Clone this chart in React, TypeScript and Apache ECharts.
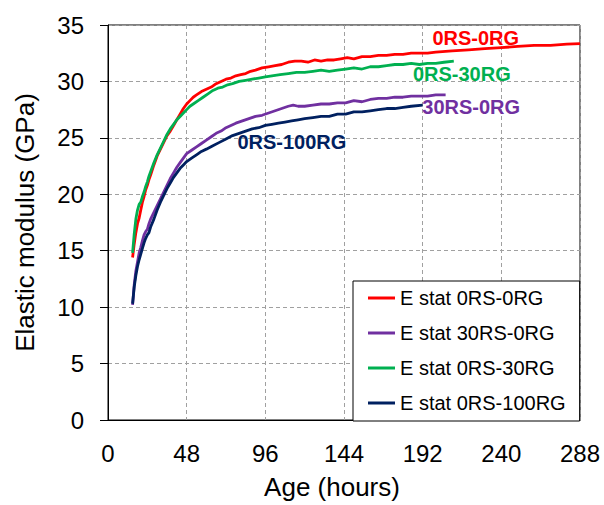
import React, { useEffect, useRef } from "react";
import * as echarts from "echarts";

const xTicks = [0, 48, 96, 144, 192, 240, 288];
const yTicks = [0, 5, 10, 15, 20, 25, 30, 35];

const seriesNames = ["E stat 0RS-0RG", "E stat 30RS-0RG", "E stat 0RS-30RG", "E stat 0RS-100RG"];
const seriesColors = ["#FF0000", "#7030A0", "#00B050", "#002060"];
const curveLabels = ["0RS-0RG", "30RS-0RG", "0RS-30RG", "0RS-100RG"];
const labelAnchors: [number, number][] = [
  [224.4, 33.85],
  [221.6, 27.7],
  [215.9, 30.7],
  [112.2, 24.6],
];

const red0RS0RG: [number, number][] = [
  [15, 14.4], [16, 15.6], [17, 16.6], [18, 17.4], [19, 17.9], [20, 18.6], [21, 19.3], [22, 19.8],
  [23, 20.4], [24, 20.8], [25, 21.3], [26, 21.7], [28, 22.6], [30, 23.4], [32, 24.0], [34, 24.6],
  [36, 25.2], [38, 25.6], [40, 26.1], [42, 26.6], [44, 27.1], [46, 27.6], [48, 28.0], [50, 28.3],
  [52, 28.6], [54, 28.8], [57, 29.1], [60, 29.3], [63, 29.5], [66, 29.8], [69, 30.0], [72, 30.2],
  [75, 30.3], [78, 30.5], [81, 30.6], [84, 30.7], [87, 30.9], [90, 31.0], [94, 31.2], [98, 31.3],
  [102, 31.4], [106, 31.5], [110, 31.7], [114, 31.8], [118, 31.8], [122, 31.7], [126, 31.9], [130, 31.8],
  [134, 31.9], [138, 31.9], [142, 32.0], [146, 32.1], [150, 32.0], [155, 32.2], [160, 32.2], [165, 32.3],
  [170, 32.3], [175, 32.4], [180, 32.4], [185, 32.5], [190, 32.5], [195, 32.5], [200, 32.6], [210, 32.7],
  [220, 32.8], [230, 32.9], [240, 33.0], [250, 33.1], [260, 33.2], [270, 33.2], [280, 33.3], [288, 33.35],
];

const purple30RS0RG: [number, number][] = [
  [15, 10.2], [16, 12.0], [17, 13.2], [18, 14.0], [19, 14.8], [20, 15.3], [21, 15.9], [22, 16.4],
  [23, 16.7], [24, 16.9], [25, 17.4], [26, 17.8], [28, 18.4], [30, 19.0], [32, 19.6], [34, 20.2],
  [36, 20.8], [38, 21.4], [40, 21.9], [42, 22.4], [44, 22.8], [46, 23.2], [48, 23.6], [51, 23.9],
  [54, 24.2], [57, 24.5], [60, 24.8], [63, 25.1], [66, 25.4], [69, 25.6], [72, 25.9], [75, 26.1],
  [78, 26.3], [82, 26.5], [86, 26.7], [90, 26.9], [94, 27.0], [98, 27.2], [102, 27.4], [106, 27.6],
  [110, 27.8], [113, 27.9], [116, 27.8], [120, 27.8], [125, 27.9], [130, 28.0], [135, 28.0], [140, 28.1],
  [145, 28.1], [150, 28.3], [155, 28.2], [160, 28.4], [165, 28.5], [170, 28.5], [175, 28.6], [180, 28.6],
  [185, 28.7], [190, 28.7], [195, 28.7], [200, 28.8], [206, 28.8],
];

const green0RS30RG: [number, number][] = [
  [15, 14.8], [16, 16.5], [17, 17.8], [18, 18.6], [19, 19.1], [20, 19.3], [21, 19.8], [22, 20.2],
  [23, 20.7], [24, 21.1], [25, 21.6], [26, 22.0], [28, 22.8], [30, 23.5], [32, 24.1], [34, 24.7],
  [36, 25.3], [38, 25.8], [40, 26.2], [42, 26.6], [44, 26.9], [46, 27.2], [48, 27.5], [50, 27.8],
  [52, 28.0], [55, 28.3], [58, 28.6], [61, 28.9], [64, 29.2], [67, 29.4], [70, 29.5], [73, 29.7],
  [76, 29.8], [80, 30.0], [84, 30.1], [88, 30.2], [92, 30.3], [96, 30.4], [100, 30.5], [105, 30.6],
  [110, 30.7], [115, 30.8], [120, 30.8], [125, 30.9], [130, 31.0], [135, 30.9], [140, 31.0], [145, 31.1],
  [150, 31.2], [155, 31.1], [160, 31.3], [165, 31.3], [170, 31.4], [175, 31.5], [180, 31.5], [185, 31.6],
  [190, 31.5], [195, 31.6], [200, 31.6], [205, 31.7], [211, 31.8],
];

const navy0RS100RG: [number, number][] = [
  [15, 10.3], [16, 11.8], [17, 12.8], [18, 13.6], [19, 14.2], [20, 14.7], [21, 15.2], [22, 15.7],
  [23, 16.1], [24, 16.4], [25, 16.6], [26, 17.1], [28, 17.8], [30, 18.6], [32, 19.3], [34, 19.9],
  [36, 20.5], [38, 21.0], [40, 21.5], [42, 21.9], [44, 22.3], [46, 22.6], [48, 22.9], [51, 23.2],
  [54, 23.5], [57, 23.8], [60, 24.0], [64, 24.3], [68, 24.6], [72, 24.9], [76, 25.2], [80, 25.4],
  [84, 25.6], [88, 25.8], [92, 25.9], [96, 26.1], [100, 26.2], [104, 26.3], [108, 26.4], [112, 26.5],
  [116, 26.6], [120, 26.7], [125, 26.8], [130, 26.9], [135, 26.9], [140, 27.1], [145, 27.1], [150, 27.3],
  [155, 27.3], [160, 27.4], [165, 27.5], [170, 27.6], [175, 27.6], [180, 27.7], [185, 27.8], [192, 27.9],
];

const seriesData = [red0RS0RG, purple30RS0RG, green0RS30RG, navy0RS100RG];

const FONT = "'Liberation Sans', Arial, Helvetica, sans-serif";

export default function App() {
  const ref = useRef<HTMLDivElement>(null);
  useEffect(() => {
    document.body.style.margin = "0";
    if (!ref.current) return;
    const chart = echarts.init(ref.current, undefined, { renderer: "svg" });
    const gridLine = { show: true, lineStyle: { color: "#a0a0a0", type: [4, 3] as any, width: 1 } };
    chart.setOption({
      animation: false,
      backgroundColor: "#fff",
      textStyle: { fontFamily: FONT },
      grid: {
        left: 108, right: 24, top: 25, bottom: 85,
        show: true, borderColor: "#000", borderWidth: 1, backgroundColor: "transparent",
      },
      xAxis: {
        type: "value",
        min: xTicks[0], max: xTicks[xTicks.length - 1], interval: 48,
        name: "Age (hours)",
        nameLocation: "middle",
        nameGap: 54,
        nameTextStyle: { fontSize: 26, color: "#000", fontFamily: FONT, padding: [0, 24, 0, 0] },
        axisLine: { lineStyle: { color: "#000", width: 1 } },
        axisTick: { show: false },
        axisLabel: { fontSize: 24, color: "#000", margin: 21, fontFamily: FONT },
        splitLine: gridLine,
      },
      yAxis: {
        type: "value",
        min: yTicks[0], max: yTicks[yTicks.length - 1], interval: 5,
        name: "Elastic modulus (GPa)",
        nameLocation: "middle",
        nameGap: 70,
        nameTextStyle: { fontSize: 26, color: "#000", fontFamily: FONT },
        axisLine: { show: true, lineStyle: { color: "#000", width: 1 } },
        axisTick: { show: true, inside: false, length: 8, lineStyle: { color: "#000" } },
        axisLabel: { fontSize: 24, color: "#000", margin: 24, fontFamily: FONT },
        splitLine: gridLine,
      },
      legend: {
        left: 353, top: 281,
        orient: "vertical",
        icon: "rect",
        itemWidth: 27, itemHeight: 3,
        itemGap: 15,
        padding: [7, 14, 8, 15],
        backgroundColor: "#fff",
        borderColor: "#000",
        borderWidth: 1,
        borderRadius: 0,
        textStyle: { fontSize: 20, color: "#000", fontFamily: FONT, lineHeight: 20 },
        data: seriesNames,
      },
      series: seriesNames.map((name, i) => ({
        name,
        type: "line",
        data: seriesData[i],
        showSymbol: false,
        symbol: "none",
        color: seriesColors[i],
        lineStyle: { width: 2.8, color: seriesColors[i] },
        markPoint: {
          symbol: "circle",
          symbolSize: 1,
          itemStyle: { color: "transparent" },
          silent: true,
          data: [
            {
              coord: labelAnchors[i],
              label: {
                show: true,
                position: "inside",
                formatter: curveLabels[i],
                fontSize: 20,
                fontWeight: "bold",
                color: seriesColors[i],
                fontFamily: FONT,
              },
            },
          ],
        },
      })),
    });
    return () => chart.dispose();
  }, []);
  return <div ref={ref} style={{ width: 604, height: 505 }} />;
}
